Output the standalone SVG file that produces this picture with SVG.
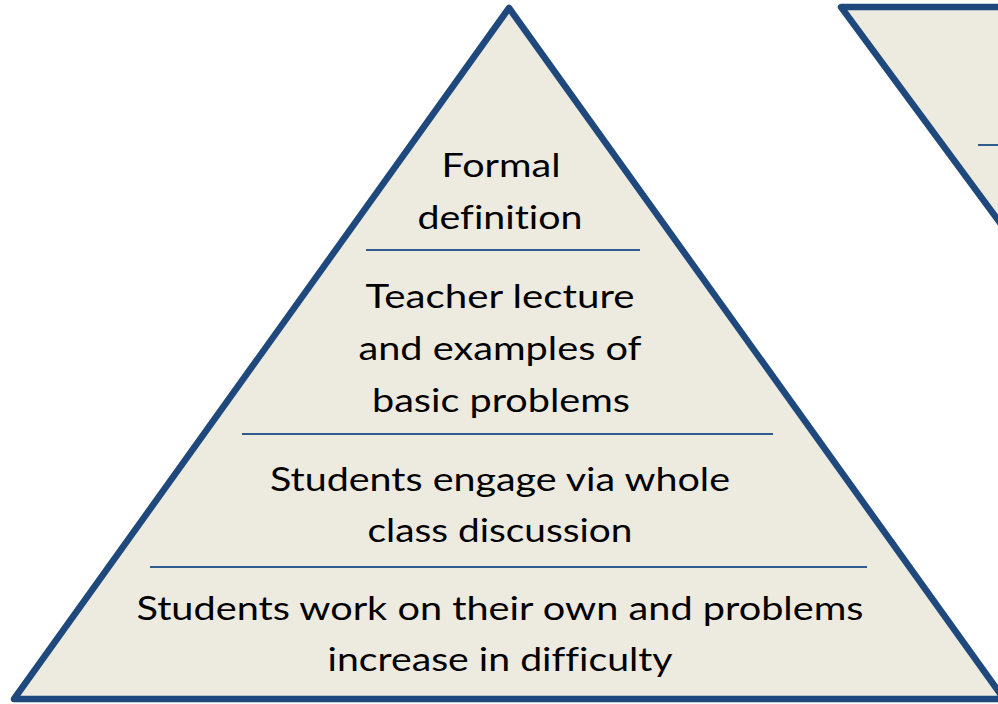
<svg xmlns="http://www.w3.org/2000/svg" width="998" height="704" viewBox="0 0 998 704">
<style>
.tri{fill:#EDEAE0;stroke:#1F497D;stroke-width:6.5;stroke-linejoin:round}
.div{stroke:#2E5C91;stroke-width:2}
.t{font-family:Lato,"Liberation Sans",Arial,sans-serif;font-size:32.5px;fill:#000;text-anchor:middle;font-variant-ligatures:none}
</style>
<rect width="998" height="704" fill="#FFFFFF"/>
<g id="inverted-pyramid">
<polygon class="tri" points="841,7 1420,7 1130.7,400"/>
<line class="div" x1="978" y1="145" x2="1000" y2="145"/>
</g>
<g id="pyramid">
<polygon class="tri" points="509,8 1004,699 14,699"/>
</g>
<g id="connectors">
<line class="div" x1="366" y1="250" x2="640" y2="250"/>
<line class="div" x1="242" y1="434" x2="773" y2="434"/>
<line class="div" x1="150" y1="567" x2="867" y2="567"/>
</g>
<g id="level-formal">
<text class="t" x="501" y="177" textLength="119" lengthAdjust="spacingAndGlyphs">Formal</text>
<text class="t" x="500" y="229" textLength="165" lengthAdjust="spacingAndGlyphs">definition</text>
</g>
<g id="level-lecture">
<text class="t" x="500" y="308" textLength="269" lengthAdjust="spacingAndGlyphs">Teacher lecture</text>
<text class="t" x="500" y="360" textLength="283" lengthAdjust="spacingAndGlyphs">and examples of</text>
<text class="t" x="501" y="412" textLength="258" lengthAdjust="spacingAndGlyphs">basic problems</text>
</g>
<g id="level-discussion">
<text class="t" x="500" y="491" textLength="460" lengthAdjust="spacingAndGlyphs">Students engage via whole</text>
<text class="t" x="500" y="542" textLength="265" lengthAdjust="spacingAndGlyphs">class discussion</text>
</g>
<g id="level-own-work">
<text class="t" x="500" y="620" textLength="727" lengthAdjust="spacingAndGlyphs">Students work on their own and problems</text>
<text class="t" x="500" y="671" textLength="345" lengthAdjust="spacingAndGlyphs">increase in difficulty</text>
</g>
</svg>
